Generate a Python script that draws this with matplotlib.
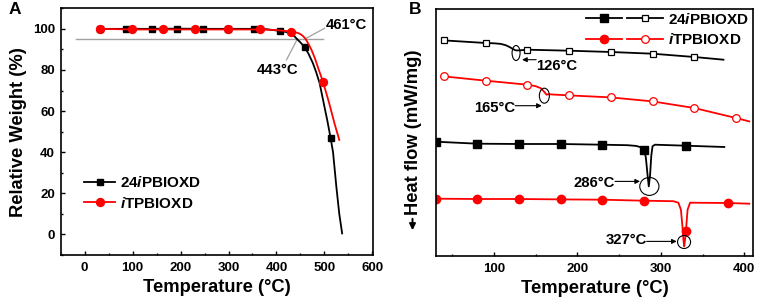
import numpy as np
import matplotlib
matplotlib.use("Agg")
import matplotlib.pyplot as plt
from matplotlib.patches import Ellipse, FancyArrowPatch
from matplotlib.legend_handler import HandlerTuple
from matplotlib.ticker import MultipleLocator, NullLocator

plt.rcParams['font.family'] = ['Liberation Sans', 'DejaVu Sans']
plt.rcParams['font.weight'] = 'bold'
plt.rcParams['mathtext.fontset'] = 'custom'
plt.rcParams['mathtext.it'] = 'Liberation Sans:italic:bold'
plt.rcParams['mathtext.rm'] = 'Liberation Sans:bold'
plt.rcParams['mathtext.bf'] = 'Liberation Sans:bold'

# ---------------- Panel A: TGA ----------------
label_24 = '24$i$PBIOXD'
label_it = '$i$TPBIOXD'

tga_24_T = [33, 86, 140, 193, 246, 299, 353, 380, 407, 420, 430, 437, 443, 450, 459,
            467, 476, 483, 490, 500, 506, 513, 518, 525, 531, 537]
tga_24_W = [100, 100, 100, 100.1, 100, 100, 100, 99.8, 99.0, 98.5, 97.6, 96.5, 95.0, 93.4, 91.0,
            87.8, 83.3, 78.8, 73.6, 62.2, 55.5, 46.8, 40.0, 23.0, 10.0, 0.5]
tga_24_marks = [33, 86, 140, 193, 246, 299, 353, 407, 459, 513]

tga_it_T = [32, 98, 164, 230, 299, 365, 400, 430, 440, 448, 455, 461, 467, 473, 480,
            486, 497, 510, 521, 531]
tga_it_W = [100, 99.7, 99.7, 99.7, 99.7, 99.7, 99.4, 98.7, 98.3, 97.7, 96.6, 95.0, 92.6, 89.8, 85.8,
            81.6, 74.3, 63.8, 54.0, 46.0]
tga_it_marks = [32, 98, 164, 230, 299, 365, 430, 497]

ref_T = [-19, 497]
ref_W = [95, 95]

# ---------------- Panel B: DSC ----------------
dsc_24_glass_T = [40, 90, 100, 108, 114, 119, 123, 126, 130, 140, 190, 240, 290, 340, 375]
dsc_24_glass_H = [215.3, 212.7, 212.4, 211.8, 210.5, 208.5, 206.5, 205.3, 205.3, 206.0, 205.0,
                  203.7, 202.0, 198.7, 196.0]
dsc_24_glass_marks = [40, 90, 140, 190, 240, 290, 340]

dsc_it_glass_T = [40, 90, 140, 150, 156, 160, 163, 166, 170, 190, 240, 290, 340, 390, 406]
dsc_it_glass_H = [179.3, 175.0, 171.0, 169.5, 167.5, 164.0, 161.0, 161.5, 161.2, 160.3, 158.3,
                  154.3, 147.7, 137.7, 134.3]
dsc_it_glass_marks = [40, 90, 140, 190, 240, 290, 340, 390]

dsc_24_melt_T = [30, 80, 130, 180, 230, 260, 270, 276, 280, 282, 284, 285.5, 287, 288.5,
                 290, 293, 300, 330, 376]
dsc_24_melt_H = [114.0, 112.0, 111.7, 111.7, 111.0, 110.5, 109.8, 108.5, 106.0, 98.0, 81.0,
                 69.3, 80.0, 100.0, 109.5, 111.0, 110.8, 110.0, 108.7]
dsc_24_melt_marks = [30, 80, 130, 180, 230, 280, 330]

dsc_it_melt_T = [30, 80, 130, 180, 230, 280, 315, 321, 324, 326, 327, 328, 329, 330, 332,
                 335, 380, 406]
dsc_it_melt_H = [57.0, 56.7, 56.7, 56.3, 56.0, 55.0, 54.5, 53.0, 46.0, 28.0, 16.0, 9.3, 16.0,
                 24.3, 46.0, 53.0, 52.7, 52.0]
dsc_it_melt_marks = [30, 80, 130, 180, 230, 280, 330, 380]


def mark_idx(T, marks):
    return [i for i, t in enumerate(T) if t in marks]


fig = plt.figure(figsize=(7.65, 3.07), dpi=100)

RED = '#ff0000'
FS_TICK = 9.5
FS_LAB = 13.2
FS_LEG = 11
FS_TXT = 10.7

# ---------- Axes A ----------
axA = fig.add_axes([0.0793, 0.1694, 0.4087, 0.8036])
axA.plot(ref_T, ref_W, color='#a0a0a0', lw=1.0, zorder=1)
axA.plot(tga_24_T, tga_24_W, color='black', lw=1.3, marker='s', ms=4.5,
         markevery=mark_idx(tga_24_T, tga_24_marks), label=label_24, zorder=3)
axA.plot(tga_it_T, tga_it_W, color=RED, lw=1.3, marker='o', ms=5.7,
         markevery=mark_idx(tga_it_T, tga_it_marks), label=label_it, zorder=4)

axA.set_xlim(-50, 602)
axA.set_ylim(-10, 110)
axA.xaxis.set_major_locator(MultipleLocator(100))
axA.xaxis.set_minor_locator(MultipleLocator(50))
axA.yaxis.set_major_locator(MultipleLocator(20))
axA.yaxis.set_minor_locator(MultipleLocator(10))
axA.tick_params(which='both', direction='in', top=False, right=False, labelsize=FS_TICK)
axA.tick_params(which='major', length=3, width=1.0)
axA.tick_params(which='minor', length=1.6, width=1.0)
axA.tick_params(axis='x', pad=5)
axA.tick_params(axis='y', pad=4)
for sp in axA.spines.values():
    sp.set_linewidth(1.2)
axA.set_xlabel('Temperature (°C)', fontsize=FS_LAB, fontweight='bold', labelpad=4)
axA.set_ylabel('Relative Weight (%)', fontsize=FS_LAB, fontweight='bold', labelpad=4)

# annotations
axA.plot([500.4, 462], [100.3, 95.4], color='#a0a0a0', lw=0.9, zorder=2)
axA.plot([421, 443.7], [84.9, 95.1], color='#a0a0a0', lw=0.9, zorder=2)
axA.text(546, 102, '461°C', fontsize=FS_TXT, fontweight='bold', ha='center', va='center')
axA.text(403, 80, '443°C', fontsize=FS_TXT, fontweight='bold', ha='center', va='center')

axA.legend(loc='center left', bbox_to_anchor=(0.075, 0.251), frameon=False,
           fontsize=FS_LEG, handlelength=2.05, handletextpad=0.28, labelspacing=0.35,
           borderpad=0, borderaxespad=0, numpoints=1)

fig.text(15 / 765, 1 - 9 / 307, 'A', fontsize=12.5, fontweight='bold', ha='center', va='center')

# ---------- Axes B ----------
axB = fig.add_axes([0.5695, 0.1671, 0.4152, 0.8036])
h1o, = axB.plot(dsc_24_glass_T, dsc_24_glass_H, color='black', lw=1.3, marker='s', ms=5,
                mfc='white', mec='black', mew=0.9,
                markevery=mark_idx(dsc_24_glass_T, dsc_24_glass_marks))
h2o, = axB.plot(dsc_it_glass_T, dsc_it_glass_H, color=RED, lw=1.3, marker='o', ms=5.5,
                mfc='white', mec=RED, mew=0.9,
                markevery=mark_idx(dsc_it_glass_T, dsc_it_glass_marks))
h1f, = axB.plot(dsc_24_melt_T, dsc_24_melt_H, color='black', lw=1.3, marker='s', ms=5.3,
                markevery=mark_idx(dsc_24_melt_T, dsc_24_melt_marks))
h2f, = axB.plot(dsc_it_melt_T, dsc_it_melt_H, color=RED, lw=1.3, marker='o', ms=6,
                markevery=mark_idx(dsc_it_melt_T, dsc_it_melt_marks))

axB.set_xlim(30, 410.8)
axB.set_ylim(0, 246.7)
axB.xaxis.set_major_locator(MultipleLocator(100))
axB.xaxis.set_minor_locator(MultipleLocator(50))
axB.yaxis.set_major_locator(NullLocator())
axB.tick_params(which='both', direction='in', top=False, right=False, labelsize=FS_TICK)
axB.tick_params(which='major', length=3, width=1.0)
axB.tick_params(which='minor', length=1.6, width=1.0)
axB.tick_params(axis='x', pad=5)
for sp in axB.spines.values():
    sp.set_linewidth(1.2)
axB.set_xlabel('Temperature (°C)', fontsize=FS_LAB, fontweight='bold', labelpad=4)
axB.set_ylabel('Heat flow (mW/mg)', fontsize=FS_LAB, fontweight='bold', labelpad=10)

# circles and arrows
for (cx, cy, w, h) in [(126.4, 202.7, 9.6, 15), (160.3, 160, 12, 15),
                       (286.2, 69.3, 23, 18), (327.8, 13.7, 15.6, 13)]:
    axB.add_patch(Ellipse((cx, cy), w, h, fill=False, ec='black', lw=0.8, zorder=5))

arrow_kw = dict(arrowstyle='-|>', color='black', lw=0.8, mutation_scale=7,
                shrinkA=0, shrinkB=0)
axB.annotate('', xy=(133.6, 196), xytext=(150.5, 196), arrowprops=arrow_kw)
axB.text(151, 189.5, '126°C', fontsize=FS_TXT, fontweight='bold', ha='left', va='center')
axB.annotate('', xy=(157.2, 150), xytext=(125.2, 150), arrowprops=arrow_kw)
axB.text(125, 148, '165°C', fontsize=FS_TXT, fontweight='bold', ha='right', va='center')
axB.annotate('', xy=(275, 74.3), xytext=(245, 74.3), arrowprops=arrow_kw)
axB.text(245, 72.7, '286°C', fontsize=FS_TXT, fontweight='bold', ha='right', va='center')
axB.annotate('', xy=(319, 14.3), xytext=(283, 14.3), arrowprops=arrow_kw)
axB.text(283, 15.2, '327°C', fontsize=FS_TXT, fontweight='bold', ha='right', va='center')

axB.legend([(h1f, h1o), (h2f, h2o)], [label_24, label_it],
           handler_map={tuple: HandlerTuple(ndivide=None, pad=0.33)},
           loc='center left', bbox_to_anchor=(0.474, 0.918), frameon=False,
           fontsize=FS_LEG, handlelength=5.0, handletextpad=0.33, labelspacing=0.35,
           borderpad=0, borderaxespad=0, numpoints=1)

fig.text(415 / 765, 1 - 9 / 307, 'B', fontsize=12.5, fontweight='bold', ha='center', va='center')

# downward arrow outside axis B
fig.patches.append(FancyArrowPatch(
    (412.5 / 765, 1 - 216 / 307), (412.5 / 765, 1 - 233 / 307),
    transform=fig.transFigure, arrowstyle='-|>', mutation_scale=9, lw=1.4, color='black'))

fig.savefig('out.png', dpi=100)
